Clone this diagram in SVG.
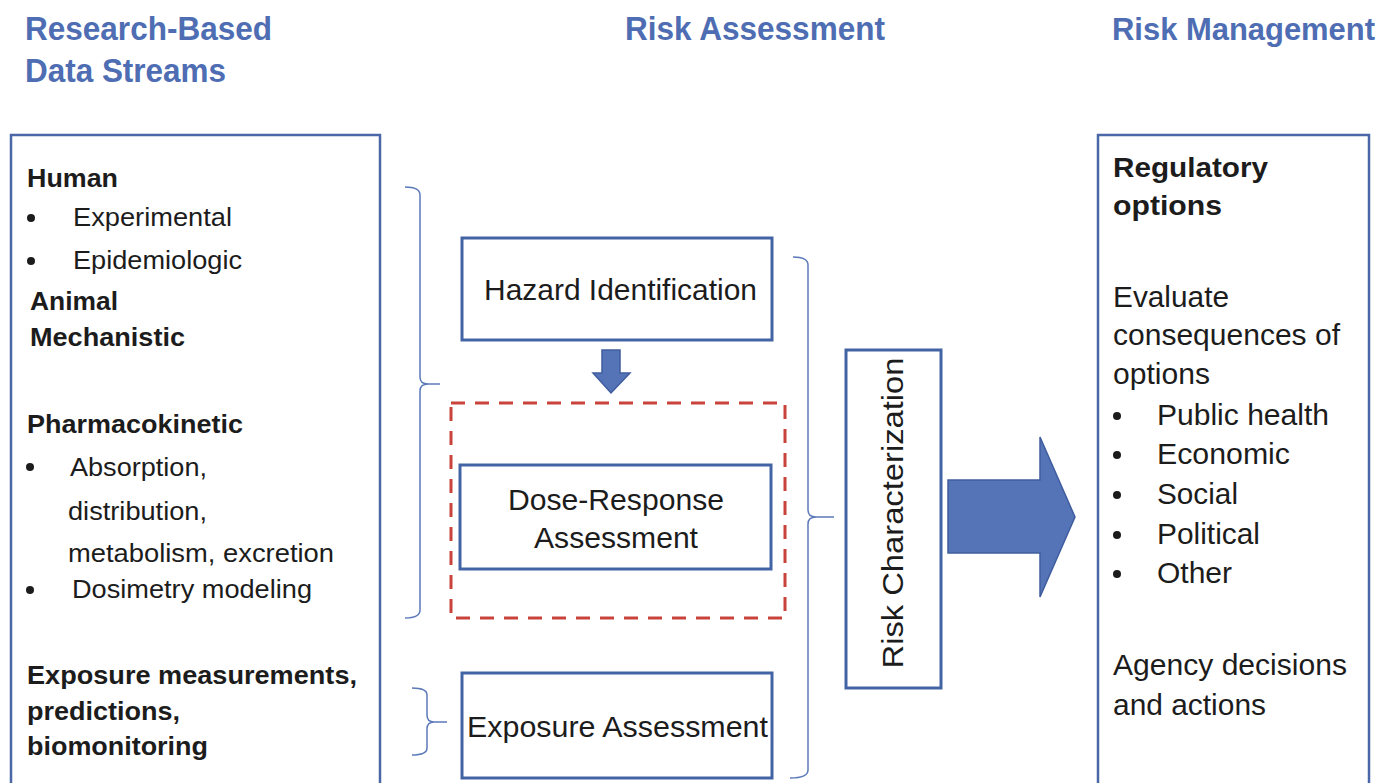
<svg xmlns="http://www.w3.org/2000/svg" width="1387" height="783" viewBox="0 0 1387 783">
  <defs>
    <style>
      .hdr { font-family: "Liberation Sans", Arial, sans-serif; font-weight: bold; font-size: 33px; fill: #4e6db3; }
      .t { font-family: "Liberation Sans", Arial, sans-serif; fill: #1c1c1c; }
      .lb { font-size: 25px; font-weight: bold; }
      .lr { font-size: 26px; }
      .mid { font-size: 29px; }
      .rb { font-size: 28px; font-weight: bold; }
      .rr { font-size: 29px; }
      .box { fill: #ffffff; stroke: #4364a4; stroke-width: 3; }
      .panel { fill: #ffffff; stroke: #4a68a8; stroke-width: 2.5; }
      .dash { fill: none; stroke: #c9433d; stroke-width: 3; stroke-dasharray: 14 10; }
      .brace { fill: none; stroke: #5b79b9; stroke-width: 1.5; }
      .blockarrow { fill: #5574b8; stroke: #3f5d9e; stroke-width: 1.5; }
      .dot { fill: #1c1c1c; }
    </style>
  </defs>
  <rect width="1387" height="783" fill="#ffffff"/>

  <!-- column headers -->
  <g id="headers">
    <text class="hdr" x="25" y="40" textLength="247" lengthAdjust="spacingAndGlyphs">Research-Based</text>
    <text class="hdr" x="25" y="82" textLength="201" lengthAdjust="spacingAndGlyphs">Data Streams</text>
    <text class="hdr" x="625" y="40" textLength="260" lengthAdjust="spacingAndGlyphs">Risk Assessment</text>
    <text class="hdr" x="1112" y="40" style="font-size:31px" textLength="263" lengthAdjust="spacingAndGlyphs">Risk Management</text>
  </g>

  <!-- data streams panel -->
  <g id="data-streams">
    <rect class="panel" x="11" y="135" width="369" height="700"/>
    <text class="t lb" x="27" y="187" textLength="91" lengthAdjust="spacingAndGlyphs">Human</text>
    <circle class="dot" cx="31" cy="218" r="4"/>
    <text class="t lr" x="73" y="226" textLength="159" lengthAdjust="spacingAndGlyphs">Experimental</text>
    <circle class="dot" cx="31" cy="261" r="4"/>
    <text class="t lr" x="73" y="269" textLength="169" lengthAdjust="spacingAndGlyphs">Epidemiologic</text>
    <text class="t lb" x="30" y="310" textLength="88" lengthAdjust="spacingAndGlyphs">Animal</text>
    <text class="t lb" x="30" y="346" textLength="155" lengthAdjust="spacingAndGlyphs">Mechanistic</text>
    <text class="t lb" x="27" y="433" textLength="216" lengthAdjust="spacingAndGlyphs">Pharmacokinetic</text>
    <circle class="dot" cx="30" cy="467" r="4"/>
    <text class="t lr" x="70" y="476" textLength="137" lengthAdjust="spacingAndGlyphs">Absorption,</text>
    <text class="t lr" x="68" y="520" textLength="139" lengthAdjust="spacingAndGlyphs">distribution,</text>
    <text class="t lr" x="68" y="562" textLength="266" lengthAdjust="spacingAndGlyphs">metabolism, excretion</text>
    <circle class="dot" cx="30" cy="590" r="4"/>
    <text class="t lr" x="72" y="598" textLength="240" lengthAdjust="spacingAndGlyphs">Dosimetry modeling</text>
    <text class="t lb" x="27" y="684" textLength="330" lengthAdjust="spacingAndGlyphs">Exposure measurements,</text>
    <text class="t lb" x="27" y="720" textLength="153" lengthAdjust="spacingAndGlyphs">predictions,</text>
    <text class="t lb" x="27" y="755" textLength="181" lengthAdjust="spacingAndGlyphs">biomonitoring</text>
  </g>

  <!-- risk assessment steps -->
  <g id="hazard-identification">
    <rect class="box" x="462" y="238" width="310" height="102"/>
    <text class="t mid" x="484" y="300" textLength="273" lengthAdjust="spacingAndGlyphs">Hazard Identification</text>
  </g>

  <g id="dose-response-group">
    <rect class="dash" x="451" y="403" width="334" height="215"/>
  </g>

  <g id="dose-response">
    <rect class="box" x="460" y="465" width="311" height="104"/>
    <text class="t mid" x="508" y="510" textLength="216" lengthAdjust="spacingAndGlyphs">Dose-Response</text>
    <text class="t mid" x="534" y="548" textLength="164" lengthAdjust="spacingAndGlyphs">Assessment</text>
  </g>

  <g id="exposure-assessment">
    <rect class="box" x="462" y="673" width="310" height="105"/>
    <text class="t mid" x="467" y="737" textLength="301" lengthAdjust="spacingAndGlyphs">Exposure Assessment</text>
  </g>

  <g id="risk-characterization">
    <rect class="box" x="846" y="350" width="95" height="338"/>
    <text class="t mid" transform="translate(903,513) rotate(-90)" x="0" y="0" text-anchor="middle" textLength="311" lengthAdjust="spacingAndGlyphs">Risk Characterization</text>
  </g>

  <!-- risk management panel -->
  <g id="risk-management">
    <rect class="panel" x="1098" y="135" width="271" height="700"/>
    <text class="t rb" x="1113" y="177" textLength="155" lengthAdjust="spacingAndGlyphs">Regulatory</text>
    <text class="t rb" x="1113" y="215" textLength="109" lengthAdjust="spacingAndGlyphs">options</text>
    <text class="t rr" x="1113" y="307" textLength="116" lengthAdjust="spacingAndGlyphs">Evaluate</text>
    <text class="t rr" x="1113" y="345" textLength="227" lengthAdjust="spacingAndGlyphs">consequences of</text>
    <text class="t rr" x="1113" y="384" textLength="97" lengthAdjust="spacingAndGlyphs">options</text>
    <circle class="dot" cx="1117" cy="416" r="4"/>
    <text class="t rr" x="1157" y="425" textLength="172" lengthAdjust="spacingAndGlyphs">Public health</text>
    <circle class="dot" cx="1117" cy="455" r="4"/>
    <text class="t rr" x="1157" y="464" textLength="133" lengthAdjust="spacingAndGlyphs">Economic</text>
    <circle class="dot" cx="1117" cy="495" r="4"/>
    <text class="t rr" x="1157" y="504" textLength="81" lengthAdjust="spacingAndGlyphs">Social</text>
    <circle class="dot" cx="1117" cy="535" r="4"/>
    <text class="t rr" x="1157" y="544" textLength="103" lengthAdjust="spacingAndGlyphs">Political</text>
    <circle class="dot" cx="1117" cy="574" r="4"/>
    <text class="t rr" x="1157" y="583" textLength="75" lengthAdjust="spacingAndGlyphs">Other</text>
    <text class="t rr" x="1113" y="675" textLength="234" lengthAdjust="spacingAndGlyphs">Agency decisions</text>
    <text class="t rr" x="1113" y="715" textLength="153" lengthAdjust="spacingAndGlyphs">and actions</text>
  </g>

  <!-- braces and arrows -->
  <g id="connectors">
    <path class="brace" d="M405,187 Q420,187 420,195 V377 Q420,384 428,384 H440 M428,384 Q420,384 420,391 V610 Q420,618 405,618"/>
    <path class="brace" d="M412,688 Q427,688 427,695 V715 Q427,722 434,722 H447 M434,722 Q427,722 427,729 V748 Q427,755 412,755"/>
    <path class="brace" d="M793,257 Q808,257 808,265 V510 Q808,517 816,517 H834 M816,517 Q808,517 808,524 V770 Q808,778 790,778"/>
    <polygon class="blockarrow" points="602,350 620,350 620,373 630,373 611,393 593,373 602,373"/>
    <polygon class="blockarrow" points="948,480 1040,480 1040,437 1075,517 1040,597 1040,553 948,553"/>
  </g>
</svg>
